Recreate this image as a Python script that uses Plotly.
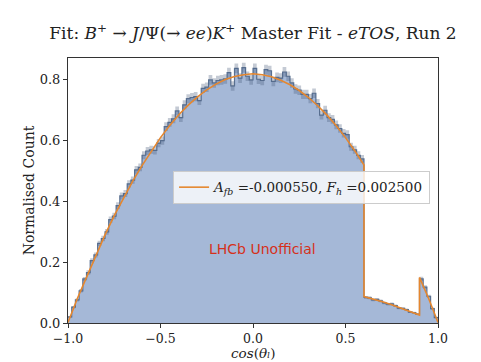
import numpy as np
import plotly.graph_objects as go

# Histogram (normalised counts), 100 bins on [-1, 1]
hist = [
    0.020, 0.052, 0.076, 0.106, 0.145, 0.166, 0.205, 0.224, 0.262, 0.278,
    0.300, 0.340, 0.352, 0.386, 0.418, 0.426, 0.458, 0.470, 0.504, 0.512,
    0.552, 0.566, 0.570, 0.568, 0.592, 0.600, 0.646, 0.660, 0.672, 0.698,
    0.676, 0.718, 0.738, 0.742, 0.745, 0.732, 0.772, 0.776, 0.800, 0.790,
    0.798, 0.800, 0.803, 0.824, 0.780, 0.838, 0.806, 0.840, 0.812, 0.800,
    0.838, 0.802, 0.798, 0.834, 0.830, 0.795, 0.808, 0.806, 0.826, 0.812,
    0.790, 0.770, 0.766, 0.752, 0.752, 0.738, 0.756, 0.722, 0.684, 0.700,
    0.676, 0.670, 0.652, 0.640, 0.624, 0.620, 0.580, 0.570, 0.552, 0.540,
    0.084, 0.083, 0.076, 0.078, 0.073, 0.066, 0.062, 0.063, 0.057, 0.049,
    0.048, 0.044, 0.036, 0.034, 0.029, 0.145, 0.118, 0.088, 0.047, 0.018,
]

hist_err = [
    0.0025, 0.0040, 0.0050, 0.0058, 0.0067, 0.0072, 0.0080, 0.0083, 0.0090, 0.0093,
    0.0097, 0.0103, 0.0105, 0.0110, 0.0114, 0.0115, 0.0120, 0.0120, 0.0125, 0.0126,
    0.0130, 0.0132, 0.0133, 0.0133, 0.0136, 0.0137, 0.0142, 0.0143, 0.0145, 0.0147,
    0.0145, 0.0150, 0.0150, 0.0152, 0.0152, 0.0150, 0.0155, 0.0155, 0.0158, 0.0157,
    0.0158, 0.0158, 0.0158, 0.0160, 0.0156, 0.0162, 0.0159, 0.0162, 0.0159, 0.0158,
    0.0162, 0.0158, 0.0158, 0.0161, 0.0161, 0.0157, 0.0159, 0.0159, 0.0160, 0.0159,
    0.0157, 0.0155, 0.0155, 0.0153, 0.0153, 0.0152, 0.0154, 0.0150, 0.0146, 0.0148,
    0.0145, 0.0145, 0.0143, 0.0141, 0.0140, 0.0139, 0.0135, 0.0133, 0.0131, 0.0130,
    0.0048, 0.0048, 0.0046, 0.0046, 0.0045, 0.0043, 0.0042, 0.0042, 0.0040, 0.0037,
    0.0037, 0.0035, 0.0034, 0.0033, 0.0030, 0.0068, 0.0061, 0.0052, 0.0038, 0.0024,
]

# Fit curve samples
fit_x = [
    -1.00, -0.95, -0.90, -0.85, -0.80, -0.75, -0.70, -0.65, -0.60, -0.55,
    -0.50, -0.45, -0.40, -0.35, -0.30, -0.25, -0.20, -0.15, -0.10, -0.05,
    0.00, 0.05, 0.10, 0.15, 0.20, 0.25, 0.30, 0.35, 0.40, 0.45,
    0.50, 0.55, 0.60, 0.60, 0.65, 0.70, 0.75, 0.80, 0.85, 0.90,
    0.90, 0.95, 1.00,
]
fit_y = [
    0.002, 0.080, 0.150, 0.222, 0.290, 0.353, 0.412, 0.467, 0.518, 0.566,
    0.610, 0.650, 0.686, 0.717, 0.744, 0.767, 0.786, 0.801, 0.811, 0.817,
    0.820, 0.817, 0.810, 0.799, 0.784, 0.765, 0.742, 0.715, 0.684, 0.649,
    0.610, 0.567, 0.520, 0.087, 0.079, 0.070, 0.060, 0.049, 0.038, 0.026,
    0.150, 0.080, 0.002,
]

x_range = [-1.0, 1.0]
x_ticks = [-1.0, -0.5, 0.0, 0.5, 1.0]
y_ticks = [0.0, 0.2, 0.4, 0.6, 0.8]

legend_label = "<i>A<sub>fb</sub></i> =-0.000550, <i>F<sub>h</sub></i> =0.002500"
title_text = ("Fit: <i>B</i><sup>+</sup> → <i>J</i>/Ψ(→ <i>ee</i>)<i>K</i><sup>+</sup>"
              " Master Fit - <i>eTOS</i>, Run 2")
x_title = "<i>cos</i>(<i>θₗ</i>)"

edges = np.linspace(x_range[0], x_range[1], len(hist) + 1)
h = np.array(hist)
e = np.array(hist_err)
step_y = np.append(h, h[-1])
lo_y = np.append(h - e, (h - e)[-1])
hi_y = np.append(h + e, (h + e)[-1])

SERIF = "DejaVu Serif, Liberation Serif, serif"

fig = go.Figure()
fig.add_trace(go.Scatter(
    x=edges, y=step_y, mode="lines", line=dict(shape="hv", width=0),
    fill="tozeroy", fillcolor="rgba(76,114,176,0.5)", showlegend=False, hoverinfo="skip"))
fig.add_trace(go.Scatter(
    x=edges, y=lo_y, mode="lines", line=dict(shape="hv", width=0),
    showlegend=False, hoverinfo="skip"))
fig.add_trace(go.Scatter(
    x=edges, y=hi_y, mode="lines", line=dict(shape="hv", width=0),
    fill="tonexty", fillcolor="rgba(70,90,120,0.32)", showlegend=False, hoverinfo="skip"))
fig.add_trace(go.Scatter(
    x=edges, y=step_y, mode="lines", line=dict(shape="hv", width=1.2, color="rgba(70,95,130,0.85)"),
    showlegend=False, hoverinfo="skip"))
fig.add_trace(go.Scatter(
    x=fit_x, y=fit_y, mode="lines", line=dict(color="#e5872f", width=1.6),
    name=legend_label, showlegend=True))

fig.add_annotation(
    x=0.05, y=0.245, xref="x", yref="y", text="LHCb Unofficial", showarrow=False,
    font=dict(family="DejaVu Sans", size=14, color="#d6301a"))
fig.add_annotation(
    x=0.5, y=-(352.5 - 323) / 265, xref="paper", yref="paper", xanchor="center", yanchor="middle",
    text=x_title, showarrow=False, borderpad=0,
    font=dict(family=SERIF, size=13.5, color="#222"))

fig.update_layout(
    width=481, height=362,
    margin=dict(l=68, r=43, t=58, b=39),
    paper_bgcolor="white", plot_bgcolor="white",
    font=dict(family=SERIF, size=13, color="#222"),
    title=dict(text=title_text, x=0.5, xref="paper", xanchor="center",
               y=1 - 33 / 362, yref="container", yanchor="middle",
               font=dict(family=SERIF, size=17, color="#222")),
    legend=dict(x=0.284, y=0.574, xanchor="left", yanchor="top",
                bgcolor="rgba(255,255,255,0.8)", bordercolor="#cccccc", borderwidth=1,
                font=dict(family=SERIF, size=13.5, color="#222")),
)
fig.update_xaxes(
    range=x_range, tickvals=x_ticks, tickformat=".1f", automargin=False,
    showline=True, mirror=True, linecolor="#333", linewidth=1,
    ticks="outside", ticklen=4, tickcolor="#333", showgrid=False, zeroline=False,
    tickfont=dict(family=SERIF, size=12.5))
fig.update_yaxes(
    range=[0, 0.872], tickvals=y_ticks, tickformat=".1f", automargin=False,
    showline=True, mirror=True, linecolor="#333", linewidth=1,
    ticks="outside", ticklen=4, tickcolor="#333", showgrid=False, zeroline=False,
    tickfont=dict(family=SERIF, size=13),
    title=dict(text="Normalised Count", standoff=1, font=dict(family=SERIF, size=14)))

fig.write_html("out.html")
